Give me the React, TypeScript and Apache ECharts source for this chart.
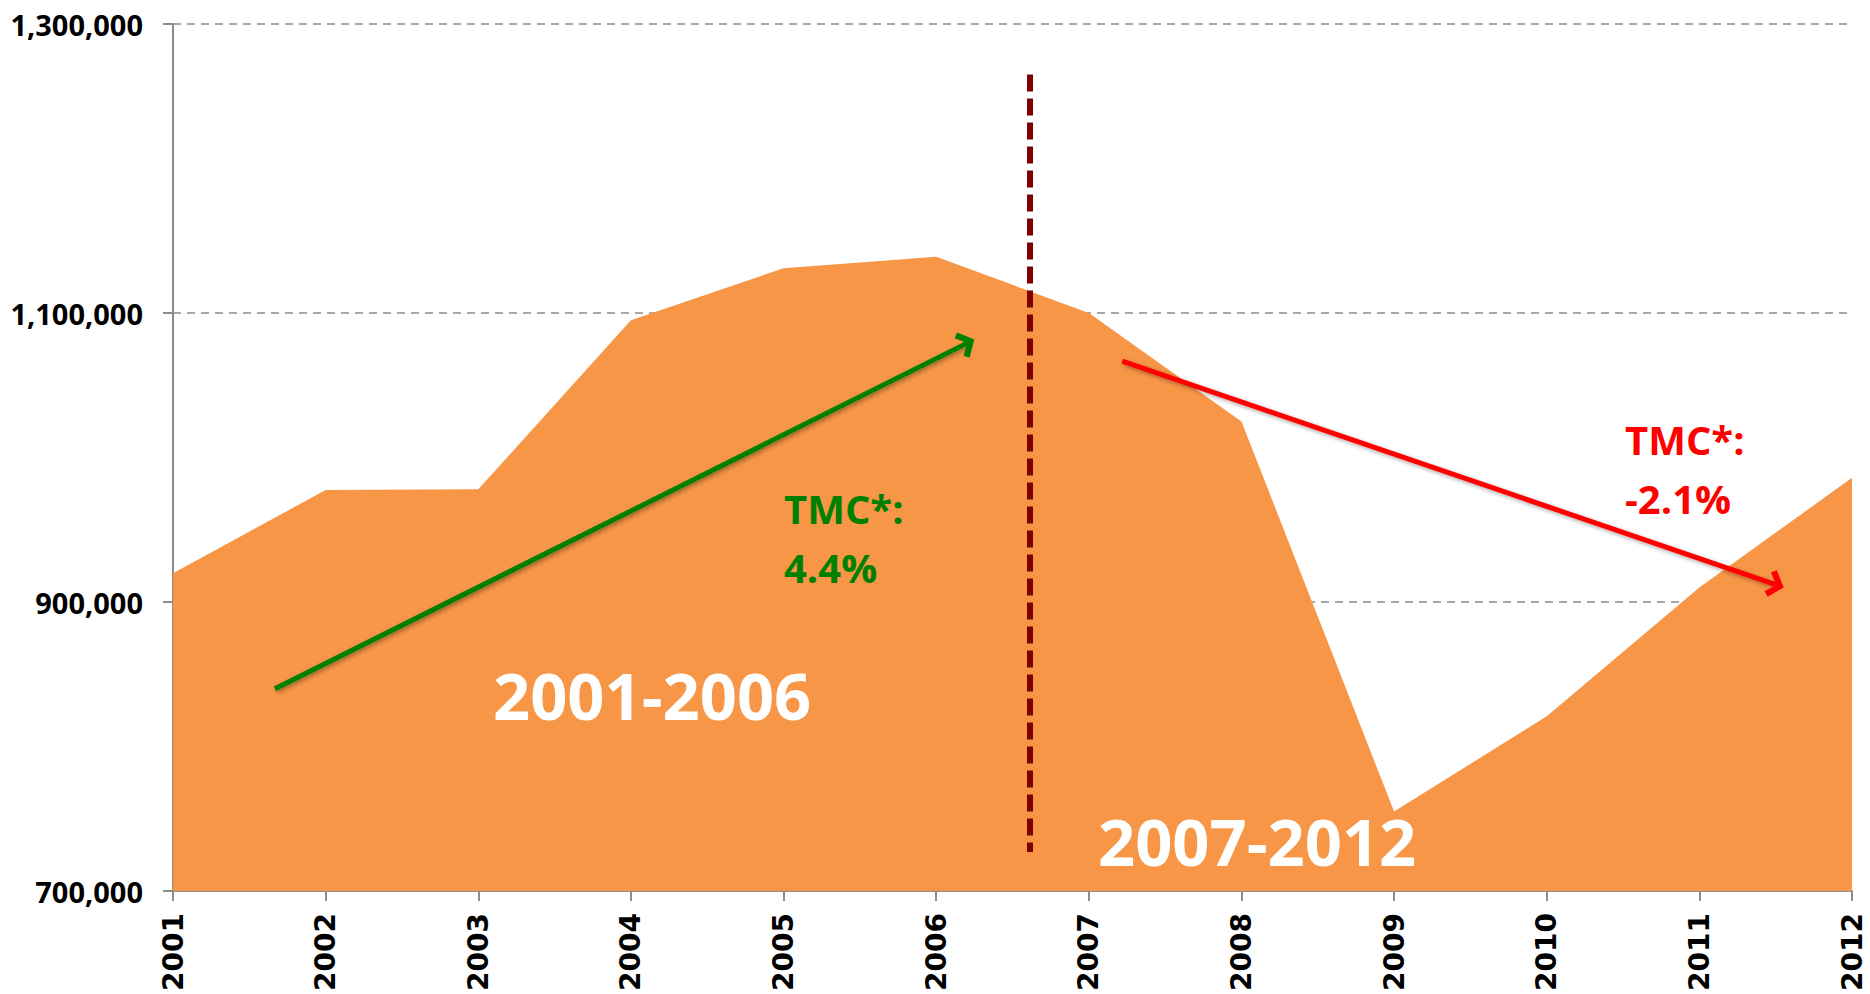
import React, { useEffect, useRef } from "react";
import * as echarts from "echarts";

const years = [2001, 2002, 2003, 2004, 2005, 2006, 2007, 2008, 2009, 2010, 2011, 2012];
const values = [920000, 977500, 978000, 1095000, 1131000, 1139000, 1100000, 1025000, 755000, 821000, 910000, 986000];

const yTicks = { min: 700000, max: 1300000, interval: 200000 };

// annotation lines in axis units
const dividerLine = [
  [2006.61, 1265000],
  [2006.61, 727000],
];
const greenArrow = [
  [2001.668, 840000],
  [2006.2, 1079000],
];
const redArrow = [
  [2007.219, 1066760],
  [2011.5, 912000],
];

const greenLabel = ["TMC*:", "4.4%"];
const redLabel = ["TMC*:", "-2.1%"];
const periodLabels = ["2001-2006", "2007-2012"];

const CHEVRON = "path://M12,0 L24,10 L20.5,14 L12,6.5 L3.5,14 L0,10 Z";

export default function App() {
  const ref = useRef<HTMLDivElement>(null);

  useEffect(() => {
    if (!ref.current) return;
    const chart = echarts.init(ref.current, null, { renderer: "svg" });
    const shadow = {
      shadowBlur: 4,
      shadowColor: "rgba(0,0,0,0.35)",
      shadowOffsetX: 2,
      shadowOffsetY: 2,
    };
    const txt = (x: number, y: number, text: string, fill: string, size: number) => ({
      type: "text",
      x,
      y,
      z: 100,
      silent: true,
      style: { text, fill, font: `bold ${size}px 'Open Sans'`, verticalAlign: "middle" },
    });
    chart.setOption({
      animation: false,
      grid: { left: 173, right: 18, top: 24, bottom: 101 },
      xAxis: {
        type: "value",
        min: years[0],
        max: years[years.length - 1],
        interval: 1,
        axisLine: { show: true, lineStyle: { color: "#8c8c8c", width: 2 } },
        axisTick: { show: true, length: 10, lineStyle: { color: "#8c8c8c", width: 2 } },
        splitLine: { show: false },
        axisLabel: {
          rotate: 90,
          margin: 22,
          formatter: (v: number) => String(v),
          color: "#000",
          fontFamily: "DejaVu Sans",
          fontWeight: "bold",
          fontSize: 28,
        },
      },
      yAxis: {
        type: "value",
        min: yTicks.min,
        max: yTicks.max,
        interval: yTicks.interval,
        axisLine: { show: true, lineStyle: { color: "#8c8c8c", width: 2 } },
        axisTick: { show: true, length: 10, lineStyle: { color: "#8c8c8c", width: 2 } },
        splitLine: {
          show: true,
          lineStyle: { color: "#8c8c8c", width: 1.5, type: [8, 6] },
        },
        axisLabel: {
          margin: 30,
          color: "#000",
          fontFamily: "Open Sans",
          fontWeight: "bold",
          fontSize: 29,
          formatter: (v: number) => v.toLocaleString("en-US"),
        },
      },
      series: [
        {
          type: "line",
          data: years.map((y, i) => [y, values[i]]),
          symbol: "none",
          lineStyle: { width: 0 },
          areaStyle: { color: "#F79646", opacity: 1, origin: "start" },
          silent: true,
          z: 2,
          markLine: {
            silent: true,
            symbol: ["none", CHEVRON],
            symbolSize: [28, 17],
            label: { show: false },
            emphasis: { disabled: true },
            data: [
              [
                {
                  coord: dividerLine[0],
                  symbol: "none",
                  lineStyle: { color: "#7f0000", width: 6, type: [17, 7] },
                },
                { coord: dividerLine[1], symbol: "none" },
              ],
              [
                {
                  coord: greenArrow[0],
                  lineStyle: { color: "#008000", width: 5, type: "solid", ...shadow },
                  itemStyle: { color: "#008000" },
                },
                { coord: greenArrow[1], itemStyle: { color: "#008000" } },
              ],
              [
                {
                  coord: redArrow[0],
                  lineStyle: { color: "#ff0000", width: 5, type: "solid", ...shadow },
                  itemStyle: { color: "#ff0000" },
                },
                { coord: redArrow[1], itemStyle: { color: "#ff0000" } },
              ],
            ],
          },
        },
      ],
      graphic: [
        txt(784, 508, greenLabel[0], "#008000", 40),
        txt(784, 567, greenLabel[1], "#008000", 40),
        txt(1625, 439, redLabel[0], "#ff0000", 40),
        txt(1625, 498, redLabel[1], "#ff0000", 40),
        txt(493, 695, periodLabels[0], "#ffffff", 65),
        txt(1098, 841, periodLabels[1], "#ffffff", 65),
      ],
    });
    return () => chart.dispose();
  }, []);

  return (
    <div
      ref={ref}
      style={{ position: "fixed", left: 0, top: 0, width: 1870, height: 994, background: "#fff" }}
    />
  );
}
